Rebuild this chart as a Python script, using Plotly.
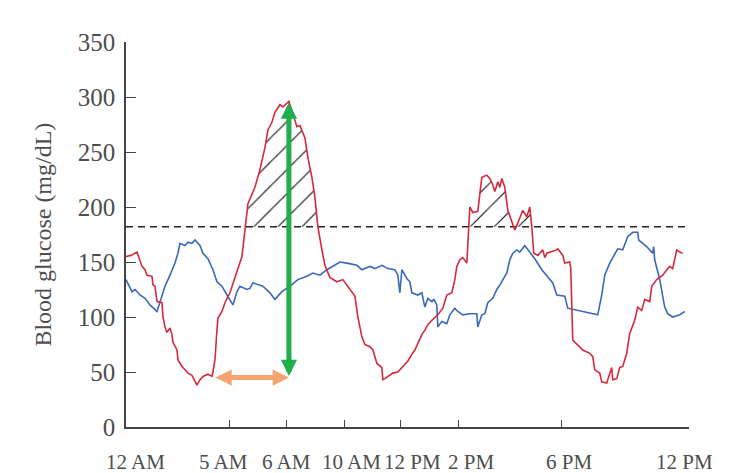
import numpy as np
import plotly.graph_objects as go

# ---- data (x = position along the time axis, y = blood glucose mg/dL) ----
red_x = [0, 5, 11, 14, 16, 19, 21, 26, 27, 29, 31, 36, 37, 39, 41, 44, 46, 47, 51, 52,
         56, 59, 62, 66, 67, 71, 74, 77, 82, 86, 87, 89, 91, 92, 96, 99, 104, 109, 111, 116,
         119, 122, 129, 134, 139, 142, 146, 149, 154, 157, 163, 167, 171, 174, 179, 182, 186, 189, 192, 196,
         199, 204, 211, 217, 222, 229, 232, 236, 239, 244, 247, 251, 256, 257, 259, 264, 267, 272, 276, 279,
         282, 286, 289, 292, 296, 299, 302, 306, 312, 317, 321, 326, 329, 331, 334, 337, 341, 344, 347, 352,
         356, 361, 364, 367, 369, 372, 374, 376, 379, 382, 386, 389, 394, 397, 401, 404, 406, 408, 412, 417,
         419, 421, 431, 432, 437, 439, 444, 445, 447, 454, 457, 464, 467, 469, 474, 476, 481, 482, 486, 487,
         491, 494, 497, 501, 504, 509, 512, 516, 519, 524, 526, 531, 537, 542, 544, 547, 551, 554, 557]
red_y = [155, 156, 159, 152, 146, 143, 138, 137, 129, 128, 114, 113, 100, 91, 86, 90, 84, 77, 70, 61,
         55, 52, 49, 47, 45, 38, 43, 46, 48, 46, 50, 61, 88, 99, 105, 113, 122, 136, 143, 155,
         179, 203, 218, 234, 254, 270, 277, 286, 293, 291, 296, 285, 273, 274, 263, 245, 227, 209, 182, 161,
         147, 136, 132, 134, 128, 119, 100, 82, 75, 73, 70, 58, 54, 43, 44, 47, 49, 50, 54, 57,
         60, 66, 70, 76, 84, 88, 93, 97, 102, 108, 120, 122, 134, 146, 152, 154, 149, 200, 195, 196,
         227, 229, 226, 220, 214, 223, 218, 226, 218, 197, 187, 179, 190, 197, 191, 200, 182, 158, 156, 161,
         154, 158, 161, 162, 156, 149, 150, 144, 79, 73, 70, 67, 64, 52, 49, 41, 40, 43, 54, 43,
         44, 54, 55, 67, 85, 97, 109, 106, 116, 114, 128, 134, 138, 144, 146, 144, 161, 159, 158]

blue_x = [0, 6, 9, 14, 19, 24, 31, 34, 39, 44, 49, 52, 54, 59, 62, 66, 69, 74, 77, 82,
          87, 91, 96, 101, 107, 111, 114, 121, 124, 127, 137, 144, 149, 156, 164, 172, 181, 187, 194, 201,
          209, 214, 221, 231, 236, 244, 249, 256, 262, 269, 272, 274, 276, 281, 284, 286, 292, 296, 299, 302,
          306, 308, 311, 312, 316, 321, 324, 329, 332, 337, 344, 351, 352, 356, 359, 362, 367, 371, 374, 377,
          381, 384, 387, 391, 394, 399, 404, 409, 416, 421, 427, 431, 439, 442, 452, 464, 472, 476, 479, 484,
          492, 497, 502, 507, 512, 513, 521, 527, 528, 529, 534, 539, 542, 547, 554, 559]
blue_y = [134, 123, 125, 120, 117, 111, 105, 114, 128, 138, 149, 158, 167, 165, 168, 167, 170, 165, 158, 153,
          143, 132, 128, 120, 111, 123, 128, 125, 126, 131, 128, 122, 116, 123, 128, 134, 137, 140, 138, 143,
          147, 150, 149, 147, 143, 146, 144, 147, 144, 143, 138, 122, 143, 135, 132, 122, 120, 122, 109, 117,
          114, 116, 111, 91, 96, 94, 102, 108, 105, 102, 103, 103, 91, 102, 103, 113, 117, 125, 129, 134,
          140, 152, 158, 161, 159, 165, 159, 153, 143, 138, 131, 120, 119, 108, 106, 103, 102, 120, 138, 149,
          162, 161, 173, 177, 177, 170, 164, 158, 164, 152, 134, 109, 103, 100, 102, 105]

threshold = 182
tick_pos = [0, 104, 161, 219, 275, 333, 436, 563]
tick_labels = ["12 AM", "5 AM", "6 AM", "10 AM", "12 PM", "2 PM", "6 PM", "12 PM"]
label_pos = [9, 98, 161, 226, 287, 345, 443, 559]
y_ticks = [0, 50, 100, 150, 200, 250, 300, 350]

peak_x = 163        # time of the peak
peak_value = 295    # peak glucose
nadir_value = 45    # preceding low
nadir_x = 88        # time of the preceding low

SERIF = "Liberation Serif, Times New Roman, Times, serif"

# ---- hatched regions (red curve above threshold) ----
def above_regions(x, y, thr):
    regions, cur = [], []
    for i in range(len(x)):
        if i > 0:
            x0, y0, x1, y1 = x[i - 1], y[i - 1], x[i], y[i]
            if (y0 - thr) * (y1 - thr) < 0:
                xc = x0 + (thr - y0) * (x1 - x0) / (y1 - y0)
                cur.append((xc, thr))
                if y1 < thr:
                    regions.append(cur)
                    cur = []
        if y[i] >= thr:
            cur.append((x[i], y[i]))
    if cur:
        regions.append(cur)
    return regions

fig = go.Figure()

for reg in above_regions(red_x, red_y, threshold):
    xs = [p[0] for p in reg]
    ys = [p[1] for p in reg]
    fig.add_trace(go.Scatter(
        x=xs + xs[::-1], y=ys + [threshold] * len(xs),
        mode="lines", line=dict(width=0), fill="toself",
        fillcolor="rgba(0,0,0,0)",
        fillpattern=dict(shape="/", size=17, solidity=0.07, fgcolor="#222222",
                         fgopacity=1, bgcolor="rgba(0,0,0,0)"),
        hoverinfo="skip", showlegend=False))

fig.add_trace(go.Scatter(x=[0, 561], y=[threshold, threshold], mode="lines",
                         line=dict(color="#222222", width=1.6, dash="7px,5px"),
                         showlegend=False))
fig.add_trace(go.Scatter(x=blue_x, y=blue_y, mode="lines",
                         line=dict(color="#3a68bd", width=1.6), showlegend=False))
fig.add_trace(go.Scatter(x=red_x, y=red_y, mode="lines",
                         line=dict(color="#d42a3c", width=1.6), showlegend=False))

annotations = []
# orange horizontal double arrow
annotations.append(dict(x=peak_x, y=nadir_value, ax=nadir_x, ay=nadir_value,
                        xref="x", yref="y", axref="x", ayref="y", text="",
                        showarrow=True, arrowside="end+start", arrowhead=2, startarrowhead=2,
                        arrowwidth=5, arrowsize=0.65, startarrowsize=0.65,
                        arrowcolor="#f3a46f"))
# green vertical double arrow
annotations.append(dict(x=peak_x, y=peak_value, ax=peak_x, ay=nadir_value,
                        xref="x", yref="y", axref="x", ayref="y", text="",
                        showarrow=True, arrowside="end+start", arrowhead=2, startarrowhead=2,
                        arrowwidth=5, arrowsize=0.65, startarrowsize=0.65,
                        arrowcolor="#1fae4b"))
for xp, lab in zip(label_pos, tick_labels):
    annotations.append(dict(x=xp, y=-0.09, xref="x", yref="paper", text=lab,
                            showarrow=False, xanchor="center", yanchor="middle",
                            font=dict(family=SERIF, size=21, color="#4d4d4d")))
annotations.append(dict(x=-0.149, y=0.5, xref="paper", yref="paper",
                        text="Blood glucose (mg/dL)", textangle=-90, showarrow=False,
                        xanchor="center", yanchor="middle",
                        font=dict(family=SERIF, size=24, color="#4d4d4d")))

fig.update_layout(
    width=743, height=473, autosize=False,
    margin=dict(l=126, r=54, t=42, b=46),
    paper_bgcolor="white", plot_bgcolor="white",
    annotations=annotations,
    font=dict(family=SERIF, color="#4d4d4d"),
)
fig.update_xaxes(range=[0, 563.3], showgrid=False, zeroline=False,
                 showline=True, linecolor="#444444", linewidth=1.6,
                 ticks="inside", ticklen=7, tickwidth=1.4, tickcolor="#444444",
                 tickvals=tick_pos, showticklabels=False)
fig.update_yaxes(range=[0, 350], showgrid=False, zeroline=False,
                 showline=True, linecolor="#444444", linewidth=1.6,
                 ticks="inside", ticklen=10, tickwidth=1.4, tickcolor="#444444",
                 tickvals=y_ticks, ticklabelstandoff=4,
                 tickfont=dict(family=SERIF, size=25, color="#4d4d4d"))

fig.write_html("out.html")
